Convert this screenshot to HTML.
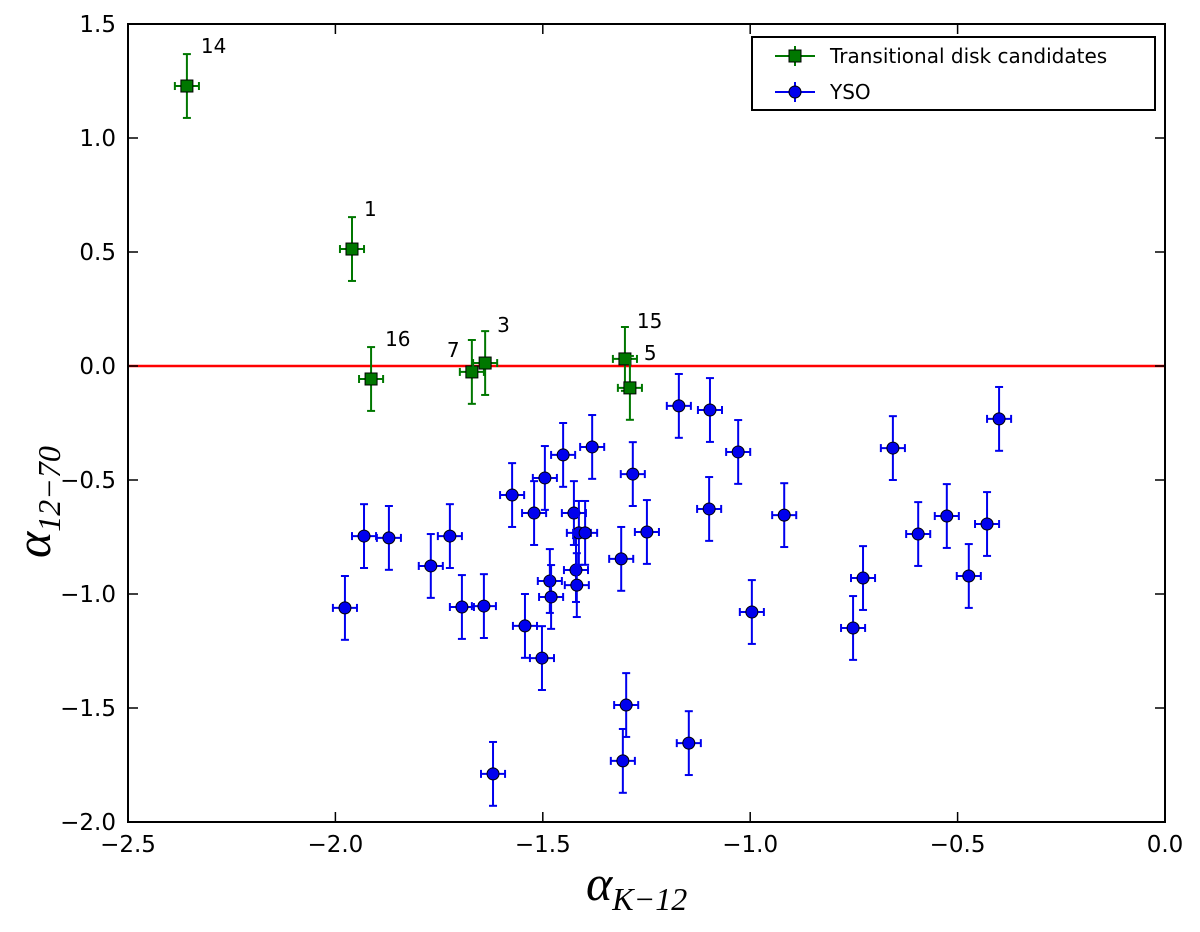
<!DOCTYPE html>
<html><head><meta charset="utf-8"><style>
body{margin:0;background:#fff;}
svg text{font-family:"DejaVu Sans","Liberation Sans",sans-serif;}
svg text.math{font-family:"Liberation Serif",serif;font-style:italic;}
</style></head><body>
<svg id="chart" width="1200" height="927" xmlns="http://www.w3.org/2000/svg">
<rect width="1200" height="927" fill="#fff"/>
<g id="marks"></g>
<rect x="128" y="24" width="1037" height="798" fill="none" stroke="#000" stroke-width="2"/>
<g id="axes"></g>
<text class="math" x="586" y="900" font-size="50">α<tspan font-size="32" dy="10">K−12</tspan></text>
<text class="math" transform="translate(50,558) rotate(-90)" font-size="50">α<tspan font-size="32" dy="10">12−70</tspan></text>
<g>
<rect x="752" y="37" width="403" height="73" fill="#fff" stroke="#000" stroke-width="2"/>
<g>
<line x1="775" y1="56" x2="815" y2="56" stroke="#007700" stroke-width="2"/><line x1="795" y1="46" x2="795" y2="66" stroke="#007700" stroke-width="2"/>
<rect x="789" y="50" width="12" height="12" fill="#007700" stroke="#000"/>
<text x="830" y="63" font-size="20">Transitional disk candidates</text></g>
<g>
<line x1="775" y1="92" x2="815" y2="92" stroke="#0000ee" stroke-width="2"/><line x1="795" y1="82" x2="795" y2="102" stroke="#0000ee" stroke-width="2"/>
<circle cx="795" cy="92" r="6" fill="#0000ee" stroke="#000"/>
<text x="830" y="99" font-size="20">YSO</text></g>
</g>
</svg>
<script>
const xTicks=[-2.5,-2.0,-1.5,-1.0,-0.5,0.0];
const yTicks=[1.5,1.0,0.5,0.0,-0.5,-1.0,-1.5,-2.0];
const tdX=[-2.358,-1.96,-1.914,-1.671,-1.639,-1.302,-1.29];
const tdY=[1.228,0.513,-0.057,-0.026,0.013,0.031,-0.096];
const tdLabels=["14","1","16","7","3","15","5"];
const ysoX=[-1.977,-1.931,-1.871,-1.770,-1.724,-1.695,-1.642,-1.620,-1.574,-1.543,-1.521,-1.502,-1.495,-1.483,-1.480,-1.451,-1.425,-1.420,-1.418,-1.413,-1.398,-1.381,-1.311,-1.299,-1.307,-1.283,-1.249,-1.172,-1.148,-1.097,-1.099,-1.029,-0.996,-0.918,-0.752,-0.728,-0.656,-0.595,-0.526,-0.473,-0.429,-0.400];
const ysoY=[-1.061,-0.746,-0.754,-0.877,-0.746,-1.057,-1.053,-1.789,-0.566,-1.140,-0.645,-1.281,-0.491,-0.943,-1.013,-0.390,-0.645,-0.895,-0.961,-0.732,-0.732,-0.355,-0.846,-1.487,-1.732,-0.474,-0.728,-0.175,-1.654,-0.193,-0.627,-0.377,-1.079,-0.654,-1.149,-0.930,-0.360,-0.737,-0.658,-0.921,-0.693,-0.232];
const xErr=0.029, yErr=0.14;
const X=v=>1165+v*414.8, Y=v=>366-v*228;
const NS="http://www.w3.org/2000/svg";
const marks=document.getElementById('marks'), axes=document.getElementById('axes');
function mk(tag,attrs,parent){const e=document.createElementNS(NS,tag);for(const k in attrs)e.setAttribute(k,attrs[k]);parent.appendChild(e);return e;}
xTicks.forEach(t=>{const g=mk('g',{},axes);


mk('line',{x1:X(t),x2:X(t),y1:822,y2:812,stroke:'#000','stroke-width':1.5},g);
mk('line',{x1:X(t),x2:X(t),y1:24,y2:34,stroke:'#000','stroke-width':1.5},g);
const tx=mk('text',{x:X(t),y:852,'font-size':23,'text-anchor':'middle'},g);tx.textContent=t.toFixed(1).replace('-','−');});
yTicks.forEach(t=>{const g=mk('g',{},axes);


mk('line',{x1:128,x2:138,y1:Y(t),y2:Y(t),stroke:'#000','stroke-width':1.5},g);
mk('line',{x1:1165,x2:1155,y1:Y(t),y2:Y(t),stroke:'#000','stroke-width':1.5},g);
const tx=mk('text',{x:116,y:Y(t)+8,'font-size':23,'text-anchor':'end'},g);tx.textContent=t.toFixed(1).replace('-','−');});
const zl=mk('line',{x1:128,x2:1165,y1:Y(0),y2:Y(0),stroke:'#ff0000','stroke-width':2.5},marks);


function errbar(g,x,y,c){
mk('line',{x1:X(x-xErr),x2:X(x+xErr),y1:Y(y),y2:Y(y),stroke:c,'stroke-width':2},g);
mk('line',{x1:X(x),x2:X(x),y1:Y(y-yErr),y2:Y(y+yErr),stroke:c,'stroke-width':2},g);
[x-xErr,x+xErr].forEach(v=>mk('line',{x1:X(v),x2:X(v),y1:Y(y)-4,y2:Y(y)+4,stroke:c,'stroke-width':2},g));
[y-yErr,y+yErr].forEach(v=>mk('line',{x1:X(x)-4,x2:X(x)+4,y1:Y(v),y2:Y(v),stroke:c,'stroke-width':2},g));}
ysoX.forEach((x,i)=>{const g=mk('g',{},marks);


errbar(g,x,ysoY[i],'#0000ee');
mk('circle',{cx:X(x),cy:Y(ysoY[i]),r:6,fill:'#0000ee',stroke:'#000'},g);});
tdX.forEach((x,i)=>{const g=mk('g',{},marks);


errbar(g,x,tdY[i],'#007700');
mk('rect',{x:X(x)-6,y:Y(tdY[i])-6,width:12,height:12,fill:'#007700',stroke:'#000'},g);
const off={"14":[14,-53],"1":[12,-53],"16":[14,-53],"7":[-25,-35],"3":[12,-51],"15":[12,-51],"5":[14,-48]}[tdLabels[i]];
const t=mk('text',{x:X(x)+off[0],y:Y(tdY[i])+off[1]+20,'font-size':20},g);t.textContent=tdLabels[i];});
</script>
</body></html>
